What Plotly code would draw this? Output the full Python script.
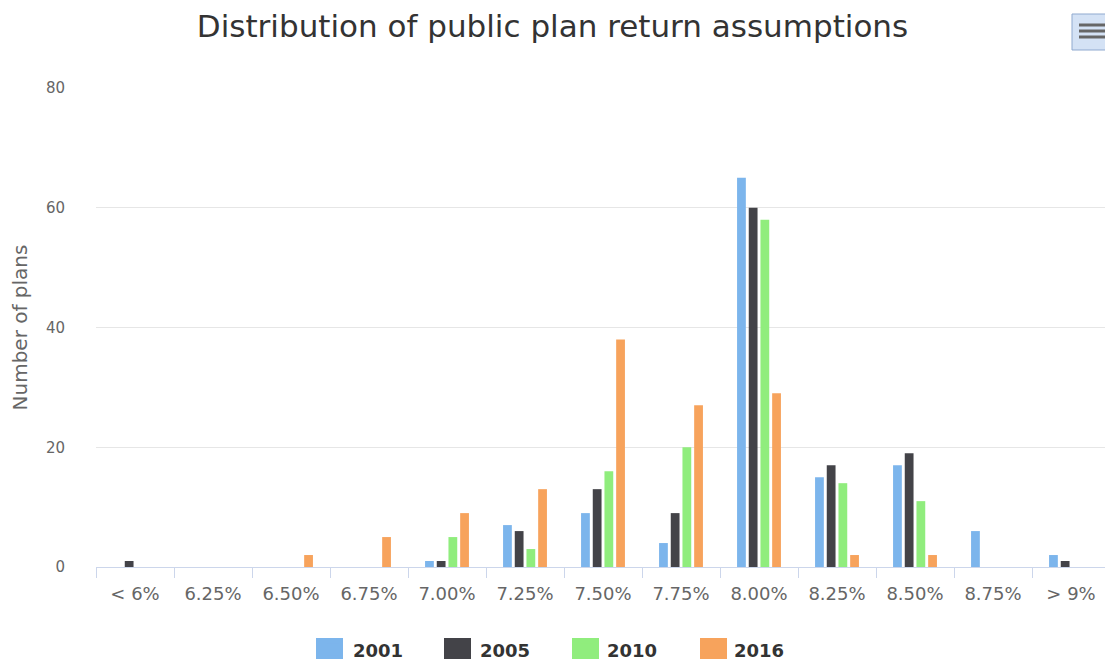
import plotly.graph_objects as go

categories = ["< 6%", "6.25%", "6.50%", "6.75%", "7.00%", "7.25%", "7.50%",
              "7.75%", "8.00%", "8.25%", "8.50%", "8.75%", "> 9%"]
series_names = ["2001", "2005", "2010", "2016"]
values_2001 = [0, 0, 0, 0, 1, 7, 9, 4, 65, 15, 17, 6, 2]
values_2005 = [1, 0, 0, 0, 1, 6, 13, 9, 60, 17, 19, 0, 1]
values_2010 = [0, 0, 0, 0, 5, 3, 16, 20, 58, 14, 11, 0, 0]
values_2016 = [0, 0, 2, 5, 9, 13, 38, 27, 29, 2, 2, 0, 0]
colors = ["#7cb5ec", "#434348", "#90ed7d", "#f7a35c"]

FONT = "DejaVu Sans"
fig = go.Figure()
for name, vals, col in zip(series_names,
                           [values_2001, values_2005, values_2010, values_2016],
                           colors):
    fig.add_trace(go.Bar(x=categories, y=vals, name=name,
                         marker=dict(color=col, line=dict(width=0))))

# plot area in pixels: x 96..1105, y 88..567
L, R, T, B = 96, 1105, 88, 567
W, H = R - L, B - T
def px(x):
    return (x - L) / W
def py(y):
    return (B - y) / H

shapes = [
    dict(type="rect", xref="paper", yref="paper", x0=px(1072), x1=px(1112),
         y0=py(50), y1=py(14), line=dict(color="#8fa9cf", width=1),
         fillcolor="#d4e2f5", layer="above"),
]
for yy in (25, 31, 37):
    shapes.append(dict(type="line", xref="paper", yref="paper", x0=px(1079), x1=px(1108),
                       y0=py(yy), y1=py(yy), line=dict(color="#666666", width=3), layer="above"))

# larger legend swatches behind the (transparent) legend
LEG_START = 313
LEG_STEP = 128
for i, col in enumerate(colors):
    x0 = LEG_START + 3 + i * LEG_STEP
    shapes.append(dict(type="rect", xref="paper", yref="paper", x0=px(x0), x1=px(x0 + 27),
                       y0=py(659), y1=py(638), line=dict(width=0), fillcolor=col,
                       layer="above"))

cat_px = 78.0
fig.update_layout(
    width=1105, height=660,
    margin=dict(l=L, r=1105 - R, t=T, b=660 - B, autoexpand=False),
    paper_bgcolor="#ffffff", plot_bgcolor="#ffffff",
    font=dict(family=FONT, color="#666666", size=16),
    title=dict(text="Distribution of public plan return assumptions",
               x=0.5, xref="container", xanchor="center", y=1 - 26 / 660, yanchor="middle",
               font=dict(size=31, color="#333333", family=FONT)),
    barmode="group", bargap=0.4, bargroupgap=0.25,
    showlegend=True,
    legend=dict(orientation="h", x=px(LEG_START), xanchor="left", y=py(650), yanchor="middle",
                font=dict(size=18, color="#333333", family=FONT, weight="bold"),
                bgcolor="rgba(0,0,0,0)",
                itemwidth=30, entrywidth=LEG_STEP - 46, entrywidthmode="pixels",
                tracegroupgap=0),
    xaxis=dict(type="category", showgrid=False, showline=True, linecolor="#ccd6eb",
               linewidth=1, ticks="outside", tickson="boundaries", ticklen=10,
               tickcolor="#ccd6eb", tickfont=dict(size=18, color="#666666"),
               ticklabelstandoff=10, automargin=False,
               range=[-0.5, -0.5 + W / cat_px], fixedrange=True),
    yaxis=dict(range=[0, 80], tickvals=[0, 20, 40, 60, 80], showgrid=True,
               gridcolor="#e6e6e6", gridwidth=1, zeroline=False, showline=False,
               ticklabelstandoff=30, tickfont=dict(size=15, color="#666666"),
               automargin=False,
               title=dict(text="Number of plans", font=dict(size=20, color="#666666"),
                          standoff=12)),
    shapes=shapes,
)
fig.write_html("out.html")
